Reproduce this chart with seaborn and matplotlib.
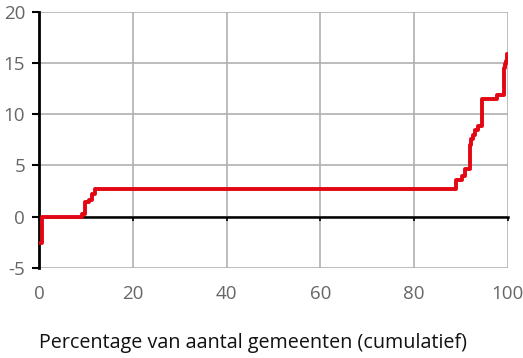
import matplotlib
matplotlib.use("Agg")
import matplotlib.pyplot as plt
import seaborn as sns
import pandas as pd

# Step curve (cumulative % of municipalities vs value), step starts
pct = [0.0, 0.7, 9.1, 9.8, 10.6, 11.2, 11.9, 89.0, 90.3, 90.9, 91.9, 92.2, 92.6,
       93.0, 93.6, 94.4, 97.7, 99.1, 99.4, 99.6, 99.9, 100.0]
val = [-2.6, 0.0, 0.3, 1.45, 1.6, 2.25, 2.65, 3.6, 4.0, 4.6, 7.0, 7.6, 8.0,
       8.5, 8.8, 11.5, 11.9, 14.5, 14.9, 15.2, 15.9, 15.9]
xticks = [0, 20, 40, 60, 80, 100]
yticks = [-5, 0, 5, 10, 15, 20]
xlabel = "Percentage van aantal gemeenten (cumulatief)"

df = pd.DataFrame({"pct": pct, "val": val})

sns.set_style("white")
plt.rcParams["font.family"] = ["Open Sans", "DejaVu Sans"]

fig = plt.figure(figsize=(5.23, 3.58), dpi=100)
ax = fig.add_axes([0.0746, 0.252, 0.8964, 0.715])

sns.lineplot(data=df, x="pct", y="val", drawstyle="steps-post", color="#e30613",
             linewidth=2.8, ax=ax, zorder=5, estimator=None, sort=False)

ax.set_xlim(0, 100)
ax.set_ylim(-5, 20)
ax.set_xticks(xticks)
ax.set_yticks(yticks)
ax.set_yticklabels([str(t) for t in yticks])
ax.grid(True, color="#b0b0b0", linewidth=1.2)
ax.set_axisbelow(True)

for s in ["top", "right"]:
    ax.spines[s].set_visible(False)
ax.spines["left"].set_color("black")
ax.spines["left"].set_linewidth(2)
ax.spines["bottom"].set_position(("data", 0))
ax.spines["bottom"].set_color("black")
ax.spines["bottom"].set_linewidth(1.8)

ax.tick_params(axis="y", direction="out", length=5, width=1.5, color="black",
               pad=5, labelsize=13.5, labelcolor="#666666", left=True)
ax.tick_params(axis="x", direction="out", length=3, width=1.2, color="black",
               pad=46, labelsize=13.5, labelcolor="#666666", bottom=True)

ax.set_ylabel("")
ax.set_xlabel(xlabel, fontsize=14.2, color="#111111", loc="left", labelpad=22)

fig.savefig("out.png", dpi=100)
